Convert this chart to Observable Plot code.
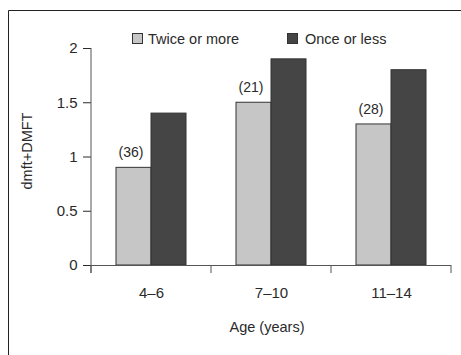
<!DOCTYPE html>
<html>
<head>
<meta charset="utf-8">
<script src="https://cdn.jsdelivr.net/npm/d3@7"></script>
<script src="https://cdn.jsdelivr.net/npm/@observablehq/plot@0.6"></script>
<style>
  html, body { margin: 0; padding: 0; background: #fff; }
  svg { display: block; }
</style>
</head>
<body>
<div id="chart"></div>
<script>
const ages = ["4–6", "7–10", "11–14"];
const series = ["Twice or more", "Once or less"];
const twiceValues = [0.9, 1.5, 1.3];
const onceValues = [1.4, 1.9, 1.8];
const sampleSizes = ["(36)", "(21)", "(28)"];
const yTicks = [0, 0.5, 1, 1.5, 2];
const xLabel = "Age (years)";
const yLabel = "dmft+DMFT";

const data = ages.flatMap((a, i) => [
  {age: a, series: series[0], value: twiceValues[i], n: sampleSizes[i]},
  {age: a, series: series[1], value: onceValues[i], n: null}
]);

const font = "'Liberation Sans', Arial, Helvetica, sans-serif";
const ink = "#2a2a2a";

const plot = Plot.plot({
  width: 461,
  height: 355,
  marginLeft: 91,
  marginRight: 10,
  marginTop: 48,
  marginBottom: 90,
  style: {fontFamily: font, fontSize: "15px", color: ink, background: "white"},
  fx: {domain: ages, padding: 0, label: null, axis: "bottom", tickSize: 0, tickPadding: 22},
  x: {domain: series, paddingInner: 0, paddingOuter: 0.6667, axis: null},
  y: {domain: [0, 2], ticks: yTicks, tickSize: 8, tickPadding: 6, tickFormat: d => String(d), label: null},
  color: {domain: series, range: ["#c6c6c6", "#454545"]},
  marks: [
    Plot.barY(data, {fx: "age", x: "series", y: "value", fill: "series", stroke: "#333", strokeWidth: 1}),
    Plot.ruleY([0], {stroke: "#555"}),
    Plot.text(data.filter(d => d.n), {fx: "age", x: "series", y: "value", text: "n", dy: -15, dx: -3, fontSize: 14, fill: ink})
  ]
});

const svg = d3.select(plot);
const fx = plot.scale("fx");
const y = plot.scale("y");
const color = plot.scale("color");

// y axis line
svg.append("line")
  .attr("x1", fx.range[0]).attr("x2", fx.range[0])
  .attr("y1", y.apply(2)).attr("y2", y.apply(0) + 8)
  .attr("stroke", "#555");

// band boundary ticks on x axis
const bounds = ages.map(a => fx.apply(a)).concat([fx.apply(ages[ages.length - 1]) + fx.bandwidth]);
svg.append("g").selectAll("line").data(bounds).join("line")
  .attr("x1", d => d).attr("x2", d => d)
  .attr("y1", y.apply(0)).attr("y2", y.apply(0) + 8)
  .attr("stroke", "#555");

// x label
svg.append("text")
  .attr("x", (fx.range[0] + fx.range[1]) / 2 - 4)
  .attr("y", 332)
  .attr("text-anchor", "middle")
  .attr("font-size", 14.5)
  .attr("fill", ink)
  .text(xLabel);

// y label
svg.append("text")
  .attr("transform", "translate(32,151) rotate(-90)")
  .attr("text-anchor", "middle")
  .attr("font-size", 14.5)
  .attr("fill", ink)
  .text(yLabel);

// legend
const legendPos = [{sx: 132, tx: 148}, {sx: 287, tx: 305}];
series.forEach((s, i) => {
  svg.append("rect")
    .attr("x", legendPos[i].sx + 0.5).attr("y", 33.5)
    .attr("width", 10).attr("height", 10)
    .attr("fill", color.apply(s)).attr("stroke", "#333");
  svg.append("text")
    .attr("x", legendPos[i].tx).attr("y", 43.5)
    .attr("text-anchor", "start")
    .attr("font-size", 14.5)
    .attr("fill", ink)
    .text(s);
});

// frame border (left and top)
svg.append("path")
  .attr("d", "M8.5,355 V10.5 H461")
  .attr("fill", "none").attr("stroke", "#222");

document.getElementById("chart").appendChild(plot);
</script>
</body>
</html>
